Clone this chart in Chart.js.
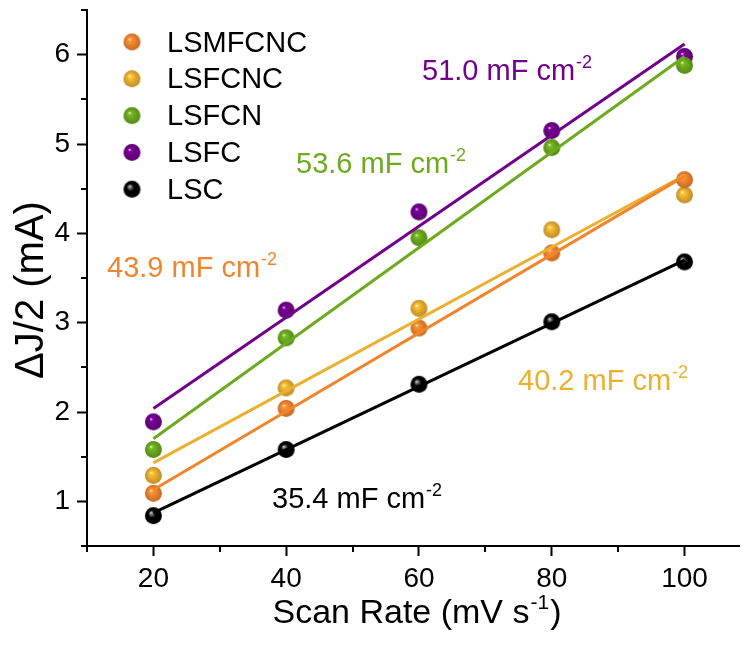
<!DOCTYPE html>
<html>
<head>
<meta charset="utf-8">
<script src="https://cdn.jsdelivr.net/npm/chart.js@4"></script>
<style>
  html, body { margin:0; padding:0; background:#fff; overflow:hidden; }
  canvas { display:block; }
</style>
</head>
<body>
<canvas id="chart" width="743" height="657"></canvas>
<script>
// Data
const scanRates = [20, 40, 60, 80, 100];
const seriesNames = ["LSMFCNC", "LSFCNC", "LSFCN", "LSFC", "LSC"];
const seriesColors = ["#F0852D", "#EBB02F", "#6CAA1E", "#71008B", "#000000"];

const lsmfcnc = [1.09, 2.04, 2.94, 3.78, 4.60];
const lsfcnc  = [1.29, 2.27, 3.16, 4.04, 4.43];
const lsfcn   = [1.58, 2.83, 3.95, 4.96, 5.88];
const lsfc    = [1.89, 3.14, 4.24, 5.15, 5.98];
const lsc     = [0.84, 1.58, 2.31, 3.01, 3.68];
const seriesValues = [lsmfcnc, lsfcnc, lsfcn, lsfc, lsc];

// linear fit lines, value at x=20 and x=100
const fitX = [20, 100];
const fitStart = [1.13, 1.43, 1.70, 2.04, 0.87];
const fitEnd   = [4.64, 4.65, 5.98, 6.12, 3.70];
const capValues = ["43.9", "40.2", "53.6", "51.0", "35.4"];

const xTicks = [20, 40, 60, 80, 100];
const xMinor = [10, 30, 50, 70, 90];
const yTicks = [1, 2, 3, 4, 5, 6];
const yMinor = [0.5, 1.5, 2.5, 3.5, 4.5, 5.5, 6.5];

const FONT = '"Liberation Sans", Arial, sans-serif';

// where the capacitance labels sit (left, baseline)
const capPos = [[107, 277], [518, 390], [296, 173], [422, 80], [272, 508]];

// shiny ball marker
function shade(hex, f){
  const n = parseInt(hex.slice(1), 16);
  let r = (n >> 16) & 255, g = (n >> 8) & 255, b = n & 255;
  r = Math.min(255, Math.round(r * f)); g = Math.min(255, Math.round(g * f)); b = Math.min(255, Math.round(b * f));
  return `rgb(${r},${g},${b})`;
}
function makeBall(color, r){
  const c = document.createElement("canvas");
  const s = r * 2 + 2;
  c.width = s; c.height = s;
  const g = c.getContext("2d");
  const cx = s / 2, cy = s / 2;
  const grad = g.createRadialGradient(cx - r * 0.3, cy - r * 0.35, 0, cx, cy, r);
  const black = color === "#000000";
  grad.addColorStop(0, black ? "#e0e0e0" : "#ffffff");
  grad.addColorStop(0.2, black ? "#666" : shade(color, 1.12));
  grad.addColorStop(0.45, color);
  grad.addColorStop(1, shade(color, 0.8));
  g.fillStyle = grad;
  g.beginPath(); g.arc(cx, cy, r, 0, Math.PI * 2); g.fill();
  return c;
}
const balls = seriesColors.map(c => makeBall(c, 8.5));

function drawSup(ctx, base, sup, x, y, size, color){
  ctx.save();
  ctx.fillStyle = color;
  ctx.textAlign = "left";
  ctx.textBaseline = "alphabetic";
  ctx.font = `${size}px ${FONT}`;
  ctx.fillText(base, x, y);
  const w = ctx.measureText(base).width;
  ctx.font = `${Math.round(size * 0.62)}px ${FONT}`;
  ctx.fillText(sup, x + w + 1, y - size * 0.4);
  ctx.restore();
}

const extras = {
  id: "extras",
  afterDraw(chart){
    const ctx = chart.ctx;
    const xs = chart.scales.x, ys = chart.scales.y;
    const area = chart.chartArea;

    // minor ticks
    ctx.save();
    ctx.strokeStyle = "#000";
    ctx.lineWidth = 2;
    xMinor.forEach(v => {
      const px = Math.round(xs.getPixelForValue(v));
      ctx.beginPath(); ctx.moveTo(px, area.bottom); ctx.lineTo(px, area.bottom + 6); ctx.stroke();
    });
    yMinor.forEach(v => {
      const py = Math.round(ys.getPixelForValue(v));
      ctx.beginPath(); ctx.moveTo(area.left, py); ctx.lineTo(area.left - 6, py); ctx.stroke();
    });
    ctx.restore();

    // x title
    ctx.save();
    const tSize = 34;
    ctx.font = `${tSize}px ${FONT}`;
    const w1 = ctx.measureText("Scan Rate (mV s").width;
    const w3 = ctx.measureText(")").width;
    ctx.font = `${Math.round(tSize * 0.62)}px ${FONT}`;
    const w2 = ctx.measureText("-1").width;
    const total = w1 + w2 + w3 + 2;
    const x0 = 417 - total / 2;
    drawSup(ctx, "Scan Rate (mV s", "-1", x0, 623, tSize, "#000");
    ctx.font = `${tSize}px ${FONT}`;
    ctx.fillStyle = "#000";
    ctx.fillText(")", x0 + w1 + w2 + 2, 623);
    ctx.restore();

    // y title
    ctx.save();
    ctx.translate(32, 290);
    ctx.rotate(-Math.PI / 2);
    ctx.font = `40px ${FONT}`;
    ctx.fillStyle = "#000";
    ctx.textAlign = "center";
    ctx.textBaseline = "middle";
    ctx.fillText("\u0394J/2 (mA)", 0, 0);
    ctx.restore();

    // capacitance labels
    capValues.forEach((v, i) => {
      drawSup(ctx, `${v} mF cm`, "-2", capPos[i][0], capPos[i][1], 29, seriesColors[i]);
    });

    // legend
    ctx.save();
    ctx.font = `29px ${FONT}`;
    ctx.fillStyle = "#000";
    ctx.textBaseline = "alphabetic";
    seriesNames.forEach((name, i) => {
      const y = 42 + i * 36.8;
      ctx.drawImage(balls[i], 132 - balls[i].width / 2, y - balls[i].height / 2);
      ctx.fillText(name, 167, y + 9.5);
    });
    ctx.restore();
  }
};

const datasets = [];
seriesNames.forEach((name, i) => {
  datasets.push({
    type: "line",
    label: name + " fit",
    data: fitX.map((x, j) => ({ x, y: j === 0 ? fitStart[i] : fitEnd[i] })),
    borderColor: seriesColors[i],
    borderWidth: 3,
    pointRadius: 0,
    fill: false,
    order: 0
  });
  datasets.push({
    type: "scatter",
    label: name,
    data: scanRates.map((x, j) => ({ x, y: seriesValues[i][j] })),
    pointStyle: balls[i],
    // the ball image sets the drawn size; a small radius keeps the layout from padding for it
    pointRadius: 1,
    pointBorderWidth: 0,
    clip: false,
    order: 1
  });
});

const ctx = document.getElementById("chart").getContext("2d");
new Chart(ctx, {
  data: { datasets },
  plugins: [extras],
  options: {
    responsive: false,
    animation: false,
    events: [],
    layout: { padding: { top: 10, right: 2, left: 0, bottom: 0 } },
    plugins: { legend: { display: false }, tooltip: { enabled: false } },
    scales: {
      x: {
        type: "linear", position: "bottom", min: 10, max: 108.2,
        afterBuildTicks: s => { s.ticks = xTicks.map(v => ({ value: v })); },
        afterFit: s => { s.height = 111; s.paddingLeft = 0; s.paddingRight = 0; },
        grid: { drawOnChartArea: false, drawTicks: true, tickLength: 10, tickWidth: 2, tickColor: "#000" },
        border: { display: true, color: "#000", width: 2 },
        ticks: { font: { size: 28, family: FONT }, color: "#000", padding: 6, maxRotation: 0, autoSkip: false }
      },
      y: {
        type: "linear", position: "left", min: 0.5, max: 6.5,
        afterBuildTicks: s => { s.ticks = yTicks.map(v => ({ value: v })); },
        afterFit: s => { s.width = 87; s.paddingTop = 0; s.paddingBottom = 0; },
        grid: { drawOnChartArea: false, drawTicks: true, tickLength: 10, tickWidth: 2, tickColor: "#000" },
        border: { display: true, color: "#000", width: 2 },
        ticks: { font: { size: 28, family: FONT }, color: "#000", padding: 7, autoSkip: false }
      }
    }
  }
});
</script>
</body>
</html>
